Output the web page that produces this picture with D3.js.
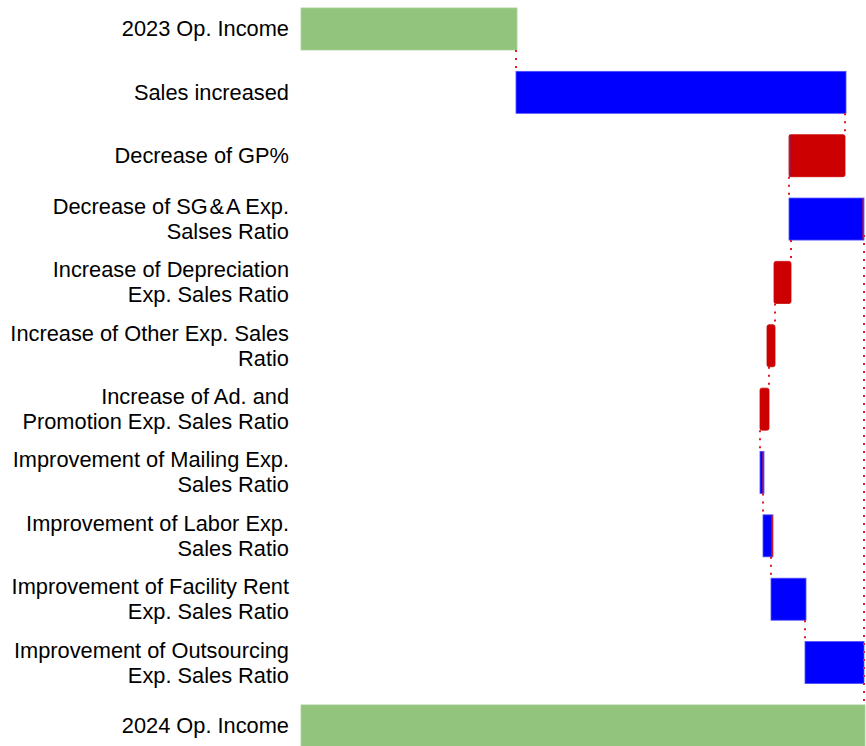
<!DOCTYPE html>
<html>
<head lang="en">
    <meta charset="UTF-8">
    <title>Op. Income Waterfall</title>
    <script src="https://cdn.jsdelivr.net/npm/d3@7/dist/d3.min.js"></script>
    <style>
        body { margin: 0; background: #fff; }
    </style>
</head>
<body>
    <script>
        // rows, top to bottom (two-line labels split with "|")
        var categories = [
            "2023 Op. Income",
            "Sales increased",
            "Decrease of GP%",
            "Decrease of SG\u200A&\u200AA Exp.|Salses Ratio",
            "Increase of Depreciation|Exp. Sales Ratio",
            "Increase of Other Exp. Sales|Ratio",
            "Increase of Ad. and|Promotion Exp. Sales Ratio",
            "Improvement of Mailing Exp.|Sales Ratio",
            "Improvement of Labor Exp.|Sales Ratio",
            "Improvement of Facility Rent|Exp. Sales Ratio",
            "Improvement of Outsourcing|Exp. Sales Ratio",
            "2024 Op. Income"
        ];
        // where each bar starts and ends
        var startVals = [0, 2150, 5440, 4880, 4900, 4740, 4680, 4590, 4620, 4700, 5040, 0];
        var endVals   = [2160, 5450, 4880, 5630, 4730, 4660, 4590, 4630, 4720, 5050, 5630, 5640];
        // total, increase, decrease
        var kinds = ["total", "up", "down", "up", "down", "down", "down", "up", "up", "up", "up", "total"];

        var w = 866;
        var h = 746;

        var svg = d3.select("body")
                .append("svg")
                .attr("width", w)
                .attr("height", h);

        var x = d3.scaleLinear()
                .domain([0, 5640])
                .range([301, 865]);

        var y = d3.scaleBand()
                .domain(d3.range(categories.length))
                .range([-2.7, 757.6])
                .paddingInner(0.337)
                .paddingOuter(0.1685);

        var fills = { total: "#93c47d", up: "#0000ff", down: "#cc0000" };
        var strokes = { total: "#a9d196", up: "#5050ff", down: "#cc0000" };

        // bars
        svg.selectAll("rect.bar")
                .data(categories)
                .enter()
                .append("rect")
                .attr("class", "bar")
                .attr("x", function (d, i) { return x(Math.min(startVals[i], endVals[i])); })
                .attr("y", function (d, i) { return y(i); })
                .attr("width", function (d, i) { return Math.abs(x(endVals[i]) - x(startVals[i])); })
                .attr("height", y.bandwidth())
                .attr("rx", function (d, i) { return kinds[i] == "down" ? 2 : 0; })
                .attr("fill", function (d, i) { return fills[kinds[i]]; })
                .attr("stroke", function (d, i) { return strokes[kinds[i]]; })
                .attr("stroke-width", 0.8);

        // thin edge marks seen on a few bars
        var redEdgeRows = [3, 7, 8];
        svg.selectAll("line.redEdge")
                .data(redEdgeRows)
                .enter()
                .append("line")
                .attr("x1", function (r) { return x(endVals[r]) - 0.8; })
                .attr("x2", function (r) { return x(endVals[r]) - 0.8; })
                .attr("y1", function (r) { return y(r) + 0.5; })
                .attr("y2", function (r) { return y(r) + y.bandwidth() - 0.5; })
                .attr("stroke", "#d0202a")
                .attr("stroke-width", 1.5);

        var blueEdgeRows = [2];
        svg.selectAll("line.blueEdge")
                .data(blueEdgeRows)
                .enter()
                .append("line")
                .attr("x1", function (r) { return x(endVals[r]) + 0.7; })
                .attr("x2", function (r) { return x(endVals[r]) + 0.7; })
                .attr("y1", function (r) { return y(r); })
                .attr("y2", function (r) { return y(r) + y.bandwidth(); })
                .attr("stroke", "#6a2a9a")
                .attr("stroke-width", 1.4);

        // dotted connectors between rows
        var dotted = { stroke: "#e01a22", width: 2, dash: "2,6" };
        svg.selectAll("line.conn")
                .data(d3.range(categories.length - 2))
                .enter()
                .append("line")
                .attr("x1", function (i) { return x(startVals[i + 1]); })
                .attr("x2", function (i) { return x(startVals[i + 1]); })
                .attr("y1", function (i) { return y(i) + y.bandwidth(); })
                .attr("y2", function (i) { return y(i + 1); })
                .attr("stroke", dotted.stroke)
                .attr("stroke-width", dotted.width)
                .attr("stroke-dasharray", dotted.dash);

        // long line from the SG&A step down to the 2024 total
        svg.append("line")
                .attr("x1", x(endVals[3]))
                .attr("x2", x(endVals[3]))
                .attr("y1", y(3) + 37)
                .attr("y2", y(11))
                .attr("stroke", dotted.stroke)
                .attr("stroke-width", dotted.width)
                .attr("stroke-dasharray", dotted.dash);

        // category labels
        var labels = svg.selectAll("text.label")
                .data(categories)
                .enter()
                .append("text")
                .attr("class", "label")
                .attr("text-anchor", "end")
                .attr("font-family", "'Liberation Sans', Arial, sans-serif")
                .attr("font-size", 21.8)
                .attr("fill", "#000");

        labels.each(function (d, i) {
            var lines = d.split("|");
            var c = y(i) + y.bandwidth() / 2;
            var t = d3.select(this);
            lines.forEach(function (ln, k) {
                t.append("tspan")
                        .attr("x", 289)
                        .attr("y", c + 7.5 + (k - (lines.length - 1) / 2) * 25)
                        .text(ln);
            });
        });
    </script>
</body>
</html>
